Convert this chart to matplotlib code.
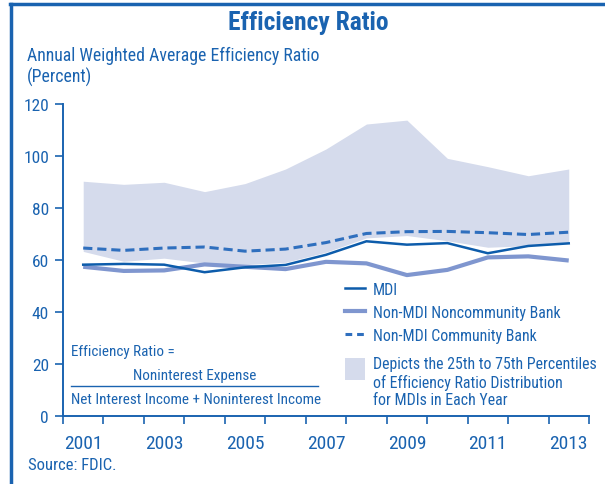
import numpy as np
import matplotlib
matplotlib.use("Agg")
import matplotlib.pyplot as plt
from matplotlib import font_manager as fm
from matplotlib.lines import Line2D
from matplotlib.patches import Patch

# data (percent)
years = [2001, 2002, 2003, 2004, 2005, 2006, 2007, 2008, 2009, 2010, 2011, 2012, 2013]
mdi = [58.2, 58.5, 58.2, 55.3, 57.2, 58.1, 62.0, 67.2, 65.9, 66.5, 62.6, 65.4, 66.4]
noncommunity = [57.4, 55.8, 56.0, 58.3, 57.4, 56.5, 59.3, 58.7, 54.2, 56.2, 61.0, 61.4, 59.8]
community = [64.6, 63.7, 64.6, 65.0, 63.4, 64.2, 66.7, 70.2, 70.9, 71.0, 70.5, 69.8, 70.7]
p25 = [63.3, 59.5, 60.7, 58.8, 58.2, 59.1, 63.0, 68.5, 69.4, 67.4, 64.9, 65.5, 66.5]
p75 = [90.3, 89.1, 89.9, 86.3, 89.4, 95.0, 102.7, 112.3, 113.8, 99.1, 95.9, 92.4, 95.0]
yticks = [0, 20, 40, 60, 80, 100, 120]
year_labels = [2001, 2003, 2005, 2007, 2009, 2011, 2013]

BLUE = "#1a63b0"
DARK = "#0d5cab"
LIGHT = "#7f96cf"
DASH = "#2f6fbe"
BAND = "#d5dbec"


# find a narrow / condensed sans font if one is installed
def find_font(bold):
    prefs = ["liberationsansnarrow", "robotocondensed", "opensanscondensed",
             "dejavusanscondensed", "notosanscondensed", "condensed", "narrow"]
    cands = []
    for f in fm.fontManager.ttflist:
        key = f.fname.lower().replace("-", "").replace("_", "").replace(" ", "")
        if "italic" in key or "oblique" in key:
            continue
        if not ("condensed" in key or "narrow" in key):
            continue
        w = f.weight if isinstance(f.weight, int) else (700 if "bold" in str(f.weight) else 400)
        if bold != (w >= 600):
            continue
        if "semi" in key or "extra" in key or "light" in key or "medium" in key or "black" in key:
            continue
        rank = next((i for i, p in enumerate(prefs) if p in key), len(prefs))
        cands.append((rank, f.fname))
    if cands:
        return sorted(cands)[0][1]
    return None


REG = find_font(False)
BLD = find_font(True) or REG
NARROW = REG is not None


def fp(size, bold=False):
    if NARROW:
        return fm.FontProperties(fname=BLD if bold else REG, size=size)
    return fm.FontProperties(family="Liberation Sans", size=size * 0.84,
                             weight="bold" if bold else "normal")


fig = plt.figure(figsize=(6.05, 4.85), dpi=100)
ax = fig.add_axes([0.1041, 0.1402, 0.8694, 0.6433])

ax.fill_between(years, p25, p75, color=BAND, lw=0, zorder=1)
ax.plot(years, noncommunity, color=LIGHT, lw=3.0, zorder=2, solid_capstyle="butt")
ax.plot(years, mdi, color=DARK, lw=1.8, zorder=3)
ax.plot(years, community, color=DASH, lw=2.2, ls=(0, (3.0, 1.6)), zorder=3)

ax.set_xlim(2000.5, 2013.5)
ax.set_ylim(0, 120)
ax.set_xticks(np.arange(2000.5, 2014, 1.0))
ax.set_xticklabels([])
ax.set_xticks(year_labels, minor=True)
ax.set_xticklabels([str(y) for y in year_labels], minor=True)
ax.tick_params(axis="x", which="major", length=6, width=1.2, color=BLUE)
ax.tick_params(axis="x", which="minor", length=0, pad=13, labelcolor=BLUE)
ax.set_yticks(yticks)
ax.tick_params(axis="y", length=6, width=1.2, color=BLUE, labelcolor=BLUE, pad=4)
for lab in ax.get_xticklabels(minor=True):
    lab.set_fontproperties(fp(14))
for lab in ax.get_yticklabels():
    lab.set_fontproperties(fp(12.5))
for s in ["top", "right"]:
    ax.spines[s].set_visible(False)
for s in ["left", "bottom"]:
    ax.spines[s].set_color(BLUE)
    ax.spines[s].set_linewidth(1.4)

# legend: the three lines, then the percentile band on its own
line_handles = [
    Line2D([], [], color=DARK, lw=1.8),
    Line2D([], [], color=LIGHT, lw=3.0),
    Line2D([], [], color=DASH, lw=2.2, ls=(0, (2.2, 1.6))),
]
line_labels = ["MDI", "Non-MDI Noncommunity Bank", "Non-MDI Community Bank"]
leg = ax.legend(line_handles, line_labels, loc="upper left", bbox_to_anchor=(0.536, 0.43),
                frameon=False, prop=fp(11.4), labelcolor=BLUE, handlelength=1.3,
                handletextpad=0.45, labelspacing=0.5, borderaxespad=0, borderpad=0)
ax.add_artist(leg)

band_label = "Depicts the 25th to 75th Percentiles\nof Efficiency Ratio Distribution\nfor MDIs in Each Year"
leg2 = ax.legend([Patch(facecolor=BAND, edgecolor="none")], [band_label], loc="upper left",
                 bbox_to_anchor=(0.536, 0.192), frameon=False, prop=fp(11.4), labelcolor=BLUE,
                 handlelength=1.3, handletextpad=0.45, borderaxespad=0, borderpad=0)
leg2.get_texts()[0].set_linespacing(1.2)
leg2.legend_handles[0].set_height(16)
leg2.legend_handles[0].set_y(5.5)

# formula
ax.text(0.015, 0.208, "Efficiency Ratio =", transform=ax.transAxes, fontproperties=fp(10.9),
        color=BLUE, va="center", ha="left")
ax.text(0.251, 0.131, "Noninterest Expense", transform=ax.transAxes, fontproperties=fp(10.9),
        color=BLUE, va="center", ha="center")
ax.plot([0.015, 0.485], [0.096, 0.096], transform=ax.transAxes, color=BLUE, lw=1.0)
ax.text(0.015, 0.054, "Net Interest Income + Noninterest Income", transform=ax.transAxes,
        fontproperties=fp(10.9), color=BLUE, va="center", ha="left")

fig.text(0.509, 0.953, "Efficiency Ratio", fontproperties=fp(18.4, bold=True), color=BLUE,
         ha="center", va="center")
fig.text(0.0446, 0.862, "Annual Weighted Average Efficiency Ratio\n(Percent)", fontproperties=fp(12.8),
         color=BLUE, ha="left", va="center", linespacing=1.15)
fig.text(0.046, 0.041, "Source: FDIC.", fontproperties=fp(12), color=BLUE, ha="left", va="center")

# frame on top and left
fig.add_artist(Line2D([0.018, 0.018], [0, 0.99], transform=fig.transFigure, color=BLUE, lw=2.5))
fig.add_artist(Line2D([0.016, 1], [0.99, 0.99], transform=fig.transFigure, color=BLUE, lw=2.5))

fig.savefig("out.png", dpi=100)
